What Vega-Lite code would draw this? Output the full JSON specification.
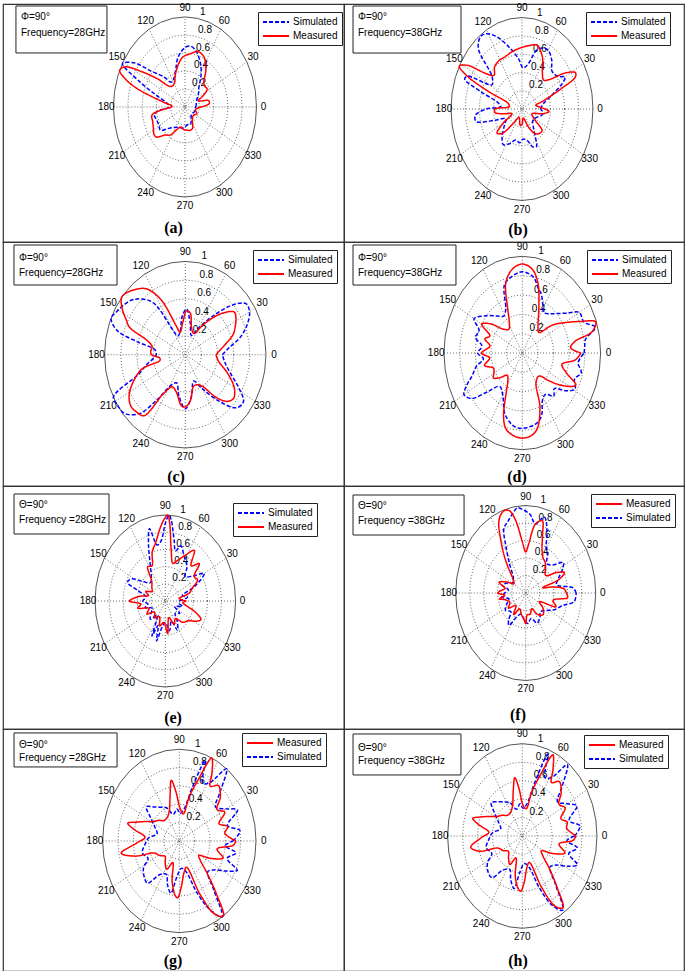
{
"$schema": "https://vega.github.io/schema/vega-lite/v6.json",
"padding": {"left": 2, "top": 2, "right": 2, "bottom": 2},
"background": "white",
"config": {
  "font": "Liberation Sans",
  "view": {"stroke": "#333", "strokeWidth": 1.2},
  "legend": {"title": null, "strokeColor": "#222", "fillColor": "white", "padding": 4, "labelFontSize": 10, "labelColor": "black", "symbolType": "M-1,0H4.2", "symbolSize": 100, "symbolStrokeWidth": 1.8, "rowPadding": 3, "labelOffset": 19, "orient": "none"}
},
"datasets": {
  "grid": [{"ga": [0,10,20,30,40,50,60,70,80,90,100,110,120,130,140,150,160,170,180,190,200,210,220,230,240,250,260,270,280,290,300,310,320,330,340,350,360], "gr": [0.2,0.4,0.6,0.8,1]}],
  "spokes": [{"sa":0,"rs":[-1,1]},{"sa":30,"rs":[-1,1]},{"sa":60,"rs":[-1,1]},{"sa":90,"rs":[-1,1]},{"sa":120,"rs":[-1,1]},{"sa":150,"rs":[-1,1]}],
  "alabels": [{"la":0,"t":"0"},{"la":30,"t":"30"},{"la":60,"t":"60"},{"la":90,"t":"90"},{"la":120,"t":"120"},{"la":150,"t":"150"},{"la":180,"t":"180"},{"la":210,"t":"210"},{"la":240,"t":"240"},{"la":270,"t":"270"},{"la":300,"t":"300"},{"la":330,"t":"330"}],
  "rlabels": [{"rr":0.2,"t":"0.2"},{"rr":0.4,"t":"0.4"},{"rr":0.6,"t":"0.6"},{"rr":0.8,"t":"0.8"},{"rr":1,"t":"1"}],
  "notes": [
    {"p":"a","t1":"Φ=90°","t2":"Frequency=28GHz","cap":"(a)"},
    {"p":"b","t1":"Φ=90°","t2":"Frequency=38GHz","cap":"(b)"},
    {"p":"c","t1":"Φ=90°","t2":"Frequency=28GHz","cap":"(c)"},
    {"p":"d","t1":"Φ=90°","t2":"Frequency=38GHz","cap":"(d)"},
    {"p":"e","t1":"Θ=90°","t2":"Frequency =28GHz","cap":"(e)"},
    {"p":"f","t1":"Θ=90°","t2":"Frequency =38GHz","cap":"(f)"},
    {"p":"g","t1":"Θ=90°","t2":"Frequency =28GHz","cap":"(g)"},
    {"p":"h","t1":"Θ=90°","t2":"Frequency =38GHz","cap":"(h)"}
  ],
  "curves": [
    {"p":"a","s":"Simulated","a":[0,10,20,30,40,48,57,65,75,83,90,100,107,115,122,127,131,140,145,151,156,162,170,180,187,192,200,210,217,225,235,245,255,268,280,292,305,320,336,350,360],"r":[0.15,0.16,0.17,0.2,0.25,0.29,0.41,0.52,0.63,0.68,0.66,0.56,0.44,0.36,0.33,0.35,0.44,0.62,0.85,1.0,0.7,0.42,0.26,0.22,0.39,0.44,0.42,0.42,0.43,0.34,0.28,0.25,0.24,0.23,0.2,0.21,0.15,0.12,0.14,0.14,0.15]},
    {"p":"a","s":"Measured","a":[0,6,12,20,27,33,40,46,55,65,74,82,94,109,120,131,141,147,152,156,160,163,166,170,178,186,191,200,208,215,220,228,237,245,255,265,277,287,294,305,320,336,348,360],"r":[0.22,0.34,0.34,0.2,0.3,0.37,0.36,0.38,0.51,0.62,0.64,0.6,0.55,0.4,0.3,0.3,0.5,0.72,0.95,1.0,0.87,0.7,0.48,0.3,0.18,0.34,0.47,0.48,0.5,0.53,0.52,0.42,0.37,0.28,0.23,0.25,0.26,0.27,0.26,0.18,0.15,0.18,0.15,0.22]},
    {"p":"b","s":"Simulated","a":[0,10,20,26,30,35,44,52,60,66,72,80,88,95,105,115,122,127,133,140,148,155,158,162,168,175,180,186,192,198,205,215,228,236,245,255,265,272,282,290,296,305,320,335,345,352,360],"r":[0.26,0.3,0.45,0.63,0.7,0.62,0.59,0.68,0.74,0.73,0.68,0.5,0.45,0.55,0.7,0.88,0.97,0.98,0.9,0.55,0.5,0.85,0.87,0.6,0.35,0.3,0.5,0.66,0.66,0.4,0.25,0.3,0.42,0.47,0.42,0.35,0.37,0.33,0.35,0.44,0.46,0.3,0.2,0.22,0.28,0.3,0.26]},
    {"p":"b","s":"Measured","a":[0,5,12,16,22,25,28,33,40,46,55,62,67,73,82,95,103,112,122,130,137,143,148,152,155,158,163,172,180,186,192,200,210,217,224,232,245,262,270,280,295,305,312,320,328,340,350,356,360],"r":[0.33,0.25,0.2,0.3,0.6,0.83,0.85,0.72,0.5,0.44,0.5,0.62,0.68,0.73,0.7,0.66,0.64,0.62,0.62,0.6,0.54,0.65,0.9,1.0,0.85,0.5,0.2,0.18,0.38,0.38,0.25,0.15,0.3,0.44,0.38,0.2,0.1,0.18,0.17,0.1,0.22,0.33,0.36,0.37,0.2,0.15,0.3,0.38,0.33]},
    {"p":"c","s":"Simulated","a":[0,8,15,22,30,36,42,50,60,70,80,88,95,105,115,120,126,137,145,152,157,163,167,172,180,186,193,200,207,213,220,228,234,240,250,260,270,280,290,300,310,318,325,332,340,350,360],"r":[0.46,0.55,0.7,0.82,0.92,0.93,0.8,0.55,0.33,0.22,0.35,0.49,0.42,0.25,0.22,0.3,0.7,0.87,0.93,0.97,1.0,0.88,0.6,0.38,0.36,0.4,0.5,0.62,1.0,1.0,0.98,0.85,0.6,0.4,0.32,0.45,0.58,0.45,0.3,0.42,0.65,0.85,0.88,0.75,0.6,0.5,0.46]},
    {"p":"c","s":"Measured","a":[0,8,12,20,25,32,37,45,55,65,75,82,88,95,105,110,117,124,130,137,142,148,153,157,162,168,175,180,186,191,196,205,212,219,226,232,237,245,255,265,270,277,288,300,310,316,322,330,340,350,360],"r":[0.38,0.45,0.5,0.63,0.68,0.74,0.76,0.62,0.4,0.25,0.3,0.45,0.47,0.35,0.25,0.33,0.66,0.85,0.92,0.98,1.0,0.92,0.82,0.75,0.5,0.42,0.43,0.42,0.32,0.32,0.56,0.72,0.82,0.87,0.86,0.83,0.5,0.38,0.42,0.55,0.56,0.5,0.35,0.38,0.6,0.72,0.76,0.7,0.55,0.42,0.38]},
    {"p":"d","s":"Simulated","a":[0,5,10,16,22,30,36,43,50,57,62,68,73,80,90,100,108,115,122,130,140,150,157,165,172,180,187,193,200,205,210,216,222,230,240,250,257,263,269,276,284,291,298,305,312,318,325,331,338,345,352,360],"r":[0.79,0.8,0.82,0.97,0.85,0.84,0.7,0.6,0.53,0.5,0.56,0.65,0.7,0.8,0.84,0.8,0.74,0.5,0.45,0.5,0.6,0.71,0.6,0.62,0.52,0.57,0.5,0.6,0.68,0.78,0.86,0.8,0.6,0.45,0.5,0.66,0.73,0.77,0.78,0.77,0.75,0.69,0.55,0.52,0.6,0.55,0.68,0.77,0.72,0.78,0.72,0.79]},
    {"p":"d","s":"Measured","a":[0,5,10,14,19,24,28,37,45,55,65,75,82,90,98,106,112,118,125,135,143,150,157,163,170,180,187,195,203,210,215,222,230,238,243,250,255,262,270,278,284,292,300,312,320,327,334,340,347,354,360],"r":[0.75,0.62,0.68,0.92,0.99,0.8,0.68,0.48,0.3,0.35,0.5,0.76,0.88,0.92,0.88,0.76,0.5,0.35,0.3,0.35,0.5,0.6,0.45,0.5,0.42,0.52,0.42,0.5,0.4,0.42,0.45,0.38,0.3,0.35,0.45,0.7,0.81,0.86,0.88,0.86,0.8,0.6,0.35,0.32,0.45,0.62,0.76,0.6,0.52,0.68,0.75]},
    {"p":"e","s":"Simulated","a":[0,8,15,22,30,36,45,52,58,64,71,76,80,85,87,90,95,100,105,110,118,125,135,145,152,158,163,170,180,188,195,205,215,225,235,245,250,255,262,270,280,290,297,305,315,325,335,345,352,360],"r":[0.2,0.32,0.25,0.45,0.64,0.5,0.4,0.5,0.55,0.6,0.68,0.6,0.72,0.95,1.0,0.9,0.7,0.66,0.87,0.7,0.45,0.35,0.3,0.4,0.55,0.58,0.4,0.28,0.32,0.25,0.3,0.2,0.25,0.3,0.2,0.45,0.3,0.48,0.3,0.25,0.35,0.25,0.38,0.3,0.2,0.25,0.15,0.25,0.2,0.2]},
    {"p":"e","s":"Measured","a":[0,8,15,22,28,35,42,48,55,62,70,76,82,86,88,91,95,101,108,115,122,130,140,150,158,165,172,180,186,192,200,210,220,232,245,255,265,275,285,295,305,315,325,332,337,343,350,355,360],"r":[0.3,0.2,0.35,0.42,0.52,0.5,0.65,0.55,0.72,0.6,0.5,0.45,0.6,0.9,1.0,0.95,0.85,0.7,0.6,0.45,0.47,0.3,0.25,0.22,0.3,0.25,0.38,0.51,0.35,0.4,0.25,0.3,0.2,0.25,0.2,0.3,0.25,0.38,0.2,0.3,0.25,0.35,0.4,0.5,0.55,0.45,0.3,0.25,0.3]},
    {"p":"f","s":"Simulated","a":[0,5,12,20,28,33,40,48,55,61,66,73,80,86,92,97,102,108,113,118,125,135,148,158,165,172,180,188,195,205,215,225,232,237,245,255,265,275,285,295,305,315,325,335,345,352,360],"r":[0.72,0.68,0.45,0.5,0.6,0.64,0.5,0.45,0.55,0.6,0.75,0.91,0.8,0.9,0.95,0.98,0.92,0.85,0.8,0.6,0.4,0.25,0.22,0.3,0.35,0.25,0.3,0.35,0.25,0.3,0.35,0.3,0.4,0.44,0.3,0.25,0.3,0.35,0.3,0.38,0.35,0.3,0.35,0.45,0.55,0.7,0.72]},
    {"p":"f","s":"Measured","a":[0,5,10,14,18,23,28,35,45,52,58,65,70,74,80,86,90,95,100,104,108,112,116,120,125,130,138,148,155,162,170,175,180,185,190,195,205,215,225,235,245,255,265,270,275,285,295,305,315,325,333,340,348,355,360],"r":[0.58,0.55,0.4,0.25,0.5,0.6,0.5,0.35,0.4,0.45,0.47,0.55,0.7,0.86,0.8,0.55,0.47,0.6,0.85,0.97,0.99,0.96,0.88,0.72,0.55,0.4,0.25,0.2,0.3,0.4,0.3,0.35,0.4,0.3,0.38,0.3,0.25,0.3,0.2,0.3,0.2,0.25,0.3,0.35,0.25,0.25,0.2,0.3,0.35,0.3,0.22,0.46,0.4,0.6,0.58]},
    {"p":"g","s":"Simulated","a":[0,8,15,24,30,38,45,52,58,64,69,74,80,88,95,105,115,125,132,139,146,155,165,175,185,195,205,212,220,228,235,245,252,259,265,275,285,292,298,304,310,318,325,332,337,343,350,355,360],"r":[0.7,0.8,0.65,0.83,0.7,0.6,0.75,1.0,0.75,0.7,0.94,0.6,0.35,0.3,0.35,0.3,0.4,0.45,0.5,0.57,0.45,0.35,0.3,0.4,0.45,0.5,0.45,0.55,0.6,0.62,0.45,0.4,0.5,0.58,0.4,0.3,0.35,0.6,0.85,1.0,0.7,0.5,0.55,0.7,0.82,0.65,0.75,0.6,0.7]},
    {"p":"g","s":"Measured","a":[0,8,14,20,28,35,42,50,56,60,65,70,75,80,88,95,99,104,112,122,132,140,148,155,160,164,168,175,182,190,196,202,212,222,232,242,250,258,265,268,273,280,288,295,300,305,310,316,322,328,335,342,350,356,360],"r":[0.74,0.6,0.65,0.55,0.67,0.6,0.72,0.79,0.72,0.85,1.0,0.7,0.5,0.3,0.35,0.55,0.67,0.5,0.35,0.3,0.3,0.35,0.4,0.5,0.6,0.7,0.6,0.45,0.55,0.77,0.6,0.35,0.3,0.25,0.3,0.35,0.25,0.45,0.6,0.62,0.5,0.35,0.3,0.65,0.92,1.0,0.75,0.5,0.35,0.3,0.45,0.6,0.5,0.7,0.74]},
    {"p":"h","s":"Simulated","a":[0,8,15,24,30,38,45,52,58,64,69,74,80,88,95,105,115,125,132,139,146,155,165,175,185,195,205,212,220,228,235,245,252,259,265,275,285,292,298,304,310,318,325,332,337,343,350,355,360],"r":[0.7,0.78,0.65,0.8,0.7,0.6,0.75,0.98,0.75,0.7,0.95,0.6,0.35,0.3,0.35,0.3,0.4,0.45,0.5,0.55,0.45,0.35,0.3,0.4,0.45,0.5,0.45,0.55,0.6,0.61,0.45,0.4,0.5,0.58,0.4,0.3,0.35,0.6,0.85,0.97,0.7,0.5,0.55,0.7,0.8,0.65,0.75,0.6,0.7]},
    {"p":"h","s":"Measured","a":[0,8,14,20,28,35,42,50,56,60,65,70,75,80,88,95,99,104,112,122,132,140,148,155,160,164,168,175,182,190,196,202,212,222,232,242,250,258,265,268,273,280,288,295,300,305,310,316,322,328,335,342,350,356,360],"r":[0.72,0.6,0.62,0.55,0.65,0.6,0.7,0.77,0.7,0.82,0.97,0.7,0.5,0.3,0.33,0.52,0.64,0.5,0.35,0.3,0.3,0.35,0.4,0.5,0.6,0.69,0.6,0.45,0.55,0.7,0.6,0.35,0.3,0.25,0.3,0.35,0.25,0.45,0.58,0.6,0.5,0.35,0.3,0.62,0.88,0.95,0.72,0.5,0.35,0.3,0.45,0.6,0.5,0.68,0.72]}
  ]
},
"columns": 2,
"spacing": 0,
"bounds": "flush",
"align": "each",
"resolve": {"scale": {"color": "independent", "strokeDash": "independent", "x": "independent", "y": "independent"}, "legend": {"color": "independent", "strokeDash": "independent"}},
"concat": [
{"width": 341, "height": 238,
 "encoding": {"x": {"field": "x", "type": "quantitative", "scale": {"domain": [-2.545, 2.224], "nice": false, "zero": false}, "axis": null}, "y": {"field": "y", "type": "quantitative", "scale": {"domain": [-1.5, 1.144], "nice": false, "zero": false}, "axis": null}},
 "layer": [
  {"data": {"name": "grid"}, "transform": [{"flatten": ["gr"]}, {"flatten": ["ga"]}, {"filter": "datum.gr < 0.9"}, {"calculate": "datum.gr*cos(datum.ga*PI/180)", "as": "x"}, {"calculate": "datum.gr*sin(datum.ga*PI/180)", "as": "y"}], "mark": {"type": "line", "stroke": "#444", "strokeWidth": 0.8, "strokeDash": [1, 2]}, "encoding": {"detail": {"field": "gr"}, "order": {"field": "ga", "type": "quantitative"}}},
  {"data": {"name": "grid"}, "transform": [{"flatten": ["gr"]}, {"flatten": ["ga"]}, {"filter": "datum.gr > 0.9"}, {"calculate": "datum.gr*cos(datum.ga*PI/180)", "as": "x"}, {"calculate": "datum.gr*sin(datum.ga*PI/180)", "as": "y"}], "mark": {"type": "line", "stroke": "#555", "strokeWidth": 1}, "encoding": {"detail": {"field": "gr"}, "order": {"field": "ga", "type": "quantitative"}}},
  {"data": {"name": "spokes"}, "transform": [{"flatten": ["rs"]}, {"calculate": "datum.rs*cos(datum.sa*PI/180)", "as": "x"}, {"calculate": "datum.rs*sin(datum.sa*PI/180)", "as": "y"}], "mark": {"type": "line", "stroke": "#444", "strokeWidth": 0.8, "strokeDash": [1, 2]}, "encoding": {"detail": {"field": "sa"}, "order": {"field": "rs", "type": "quantitative"}}},
  {"data": {"name": "alabels"}, "transform": [{"calculate": "1.1*cos(datum.la*PI/180)", "as": "x"}, {"calculate": "1.1*sin(datum.la*PI/180)", "as": "y"}], "mark": {"type": "text", "fontSize": 10, "color": "black"}, "encoding": {"text": {"field": "t", "type": "nominal"}}},
  {"data": {"name": "rlabels"}, "transform": [{"calculate": "(datum.rr+0.01)*cos(82*PI/180)", "as": "x"}, {"calculate": "(datum.rr+0.01)*sin(82*PI/180)", "as": "y"}], "mark": {"type": "text", "fontSize": 10, "color": "black", "align": "left", "baseline": "bottom", "dx": 5}, "encoding": {"text": {"field": "t", "type": "nominal"}}},
  {"data": {"name": "curves"}, "transform": [{"filter": "datum.p == 'a'"}, {"flatten": ["a", "r"]}, {"calculate": "datum.r*cos(datum.a*PI/180)", "as": "x"}, {"calculate": "datum.r*sin(datum.a*PI/180)", "as": "y"}], "mark": {"type": "line", "strokeWidth": 1.5, "interpolate": "catmull-rom"},
   "encoding": {"color": {"field": "s", "type": "nominal", "scale": {"domain": ["Simulated", "Measured"], "range": ["#0000ff", "#ff0000"]}, "legend": {"orient": "none", "legendX": 255, "legendY": 8}}, "strokeDash": {"field": "s", "type": "nominal", "scale": {"domain": ["Simulated", "Measured"], "range": [[4, 2], [1, 0]]}, "legend": {"orient": "none", "legendX": 255, "legendY": 8}}, "order": {"field": "a", "type": "quantitative"}}},
  {"data": {"name": "notes"}, "transform": [{"filter": "datum.p == 'a'"}, {"calculate": "-2.364", "as": "x"}, {"calculate": "-1.091", "as": "x2"}, {"calculate": "1.122", "as": "y"}, {"calculate": "0.6", "as": "y2"}], "mark": {"type": "rect", "fill": "white", "stroke": "#222", "strokeWidth": 1}, "encoding": {"x2": {"field": "x2"}, "y2": {"field": "y2"}}},
  {"data": {"name": "notes"}, "transform": [{"filter": "datum.p == 'a'"}, {"calculate": "-2.294", "as": "x"}, {"calculate": "1.0", "as": "y"}], "mark": {"type": "text", "align": "left", "baseline": "middle", "fontSize": 10, "color": "black"}, "encoding": {"text": {"field": "t1", "type": "nominal"}}},
  {"data": {"name": "notes"}, "transform": [{"filter": "datum.p == 'a'"}, {"calculate": "-2.294", "as": "x"}, {"calculate": "0.822", "as": "y"}], "mark": {"type": "text", "align": "left", "baseline": "middle", "fontSize": 10, "color": "black"}, "encoding": {"text": {"field": "t2", "type": "nominal"}}},
  {"data": {"name": "notes"}, "transform": [{"filter": "datum.p == 'a'"}, {"calculate": "-0.161", "as": "x"}, {"calculate": "-1.344", "as": "y"}], "mark": {"type": "text", "font": "Liberation Serif", "fontWeight": "bold", "fontSize": 16, "baseline": "middle", "color": "black"}, "encoding": {"text": {"field": "cap", "type": "nominal"}}}
 ]},
{"width": 340, "height": 238,
 "encoding": {"x": {"field": "x", "type": "quantitative", "scale": {"domain": [-2.507, 2.282], "nice": false, "zero": false}, "axis": null}, "y": {"field": "y", "type": "quantitative", "scale": {"domain": [-1.454, 1.148], "nice": false, "zero": false}, "axis": null}},
 "layer": [
  {"data": {"name": "grid"}, "transform": [{"flatten": ["gr"]}, {"flatten": ["ga"]}, {"filter": "datum.gr < 0.9"}, {"calculate": "datum.gr*cos(datum.ga*PI/180)", "as": "x"}, {"calculate": "datum.gr*sin(datum.ga*PI/180)", "as": "y"}], "mark": {"type": "line", "stroke": "#444", "strokeWidth": 0.8, "strokeDash": [1, 2]}, "encoding": {"detail": {"field": "gr"}, "order": {"field": "ga", "type": "quantitative"}}},
  {"data": {"name": "grid"}, "transform": [{"flatten": ["gr"]}, {"flatten": ["ga"]}, {"filter": "datum.gr > 0.9"}, {"calculate": "datum.gr*cos(datum.ga*PI/180)", "as": "x"}, {"calculate": "datum.gr*sin(datum.ga*PI/180)", "as": "y"}], "mark": {"type": "line", "stroke": "#555", "strokeWidth": 1}, "encoding": {"detail": {"field": "gr"}, "order": {"field": "ga", "type": "quantitative"}}},
  {"data": {"name": "spokes"}, "transform": [{"flatten": ["rs"]}, {"calculate": "datum.rs*cos(datum.sa*PI/180)", "as": "x"}, {"calculate": "datum.rs*sin(datum.sa*PI/180)", "as": "y"}], "mark": {"type": "line", "stroke": "#444", "strokeWidth": 0.8, "strokeDash": [1, 2]}, "encoding": {"detail": {"field": "sa"}, "order": {"field": "rs", "type": "quantitative"}}},
  {"data": {"name": "alabels"}, "transform": [{"calculate": "1.1*cos(datum.la*PI/180)", "as": "x"}, {"calculate": "1.1*sin(datum.la*PI/180)", "as": "y"}], "mark": {"type": "text", "fontSize": 10, "color": "black"}, "encoding": {"text": {"field": "t", "type": "nominal"}}},
  {"data": {"name": "rlabels"}, "transform": [{"calculate": "(datum.rr+0.01)*cos(82*PI/180)", "as": "x"}, {"calculate": "(datum.rr+0.01)*sin(82*PI/180)", "as": "y"}], "mark": {"type": "text", "fontSize": 10, "color": "black", "align": "left", "baseline": "bottom", "dx": 5}, "encoding": {"text": {"field": "t", "type": "nominal"}}},
  {"data": {"name": "curves"}, "transform": [{"filter": "datum.p == 'b'"}, {"flatten": ["a", "r"]}, {"calculate": "datum.r*cos(datum.a*PI/180)", "as": "x"}, {"calculate": "datum.r*sin(datum.a*PI/180)", "as": "y"}], "mark": {"type": "line", "strokeWidth": 1.5, "interpolate": "catmull-rom"},
   "encoding": {"color": {"field": "s", "type": "nominal", "scale": {"domain": ["Simulated", "Measured"], "range": ["#0000ff", "#ff0000"]}, "legend": {"orient": "none", "legendX": 242, "legendY": 8}}, "strokeDash": {"field": "s", "type": "nominal", "scale": {"domain": ["Simulated", "Measured"], "range": [[4, 2], [1, 0]]}, "legend": {"orient": "none", "legendX": 242, "legendY": 8}}, "order": {"field": "a", "type": "quantitative"}}},
  {"data": {"name": "notes"}, "transform": [{"filter": "datum.p == 'b'"}, {"calculate": "-2.38", "as": "x"}, {"calculate": "-0.859", "as": "x2"}, {"calculate": "1.126", "as": "y"}, {"calculate": "0.612", "as": "y2"}], "mark": {"type": "rect", "fill": "white", "stroke": "#222", "strokeWidth": 1}, "encoding": {"x2": {"field": "x2"}, "y2": {"field": "y2"}}},
  {"data": {"name": "notes"}, "transform": [{"filter": "datum.p == 'b'"}, {"calculate": "-2.31", "as": "x"}, {"calculate": "1.005", "as": "y"}], "mark": {"type": "text", "align": "left", "baseline": "middle", "fontSize": 10, "color": "black"}, "encoding": {"text": {"field": "t1", "type": "nominal"}}},
  {"data": {"name": "notes"}, "transform": [{"filter": "datum.p == 'b'"}, {"calculate": "-2.31", "as": "x"}, {"calculate": "0.831", "as": "y"}], "mark": {"type": "text", "align": "left", "baseline": "middle", "fontSize": 10, "color": "black"}, "encoding": {"text": {"field": "t2", "type": "nominal"}}},
  {"data": {"name": "notes"}, "transform": [{"filter": "datum.p == 'b'"}, {"calculate": "-0.056", "as": "x"}, {"calculate": "-1.327", "as": "y"}], "mark": {"type": "text", "font": "Liberation Serif", "fontWeight": "bold", "fontSize": 16, "baseline": "middle", "color": "black"}, "encoding": {"text": {"field": "cap", "type": "nominal"}}}
 ]},
{"width": 341, "height": 244,
 "encoding": {"x": {"field": "x", "type": "quantitative", "scale": {"domain": [-2.259, 1.967], "nice": false, "zero": false}, "axis": null}, "y": {"field": "y", "type": "quantitative", "scale": {"domain": [-1.407, 1.208], "nice": false, "zero": false}, "axis": null}},
 "layer": [
  {"data": {"name": "grid"}, "transform": [{"flatten": ["gr"]}, {"flatten": ["ga"]}, {"filter": "datum.gr < 0.9"}, {"calculate": "datum.gr*cos(datum.ga*PI/180)", "as": "x"}, {"calculate": "datum.gr*sin(datum.ga*PI/180)", "as": "y"}], "mark": {"type": "line", "stroke": "#444", "strokeWidth": 0.8, "strokeDash": [1, 2]}, "encoding": {"detail": {"field": "gr"}, "order": {"field": "ga", "type": "quantitative"}}},
  {"data": {"name": "grid"}, "transform": [{"flatten": ["gr"]}, {"flatten": ["ga"]}, {"filter": "datum.gr > 0.9"}, {"calculate": "datum.gr*cos(datum.ga*PI/180)", "as": "x"}, {"calculate": "datum.gr*sin(datum.ga*PI/180)", "as": "y"}], "mark": {"type": "line", "stroke": "#555", "strokeWidth": 1}, "encoding": {"detail": {"field": "gr"}, "order": {"field": "ga", "type": "quantitative"}}},
  {"data": {"name": "spokes"}, "transform": [{"flatten": ["rs"]}, {"calculate": "datum.rs*cos(datum.sa*PI/180)", "as": "x"}, {"calculate": "datum.rs*sin(datum.sa*PI/180)", "as": "y"}], "mark": {"type": "line", "stroke": "#444", "strokeWidth": 0.8, "strokeDash": [1, 2]}, "encoding": {"detail": {"field": "sa"}, "order": {"field": "rs", "type": "quantitative"}}},
  {"data": {"name": "alabels"}, "transform": [{"calculate": "1.1*cos(datum.la*PI/180)", "as": "x"}, {"calculate": "1.1*sin(datum.la*PI/180)", "as": "y"}], "mark": {"type": "text", "fontSize": 10, "color": "black"}, "encoding": {"text": {"field": "t", "type": "nominal"}}},
  {"data": {"name": "rlabels"}, "transform": [{"calculate": "(datum.rr+0.01)*cos(82*PI/180)", "as": "x"}, {"calculate": "(datum.rr+0.01)*sin(82*PI/180)", "as": "y"}], "mark": {"type": "text", "fontSize": 10, "color": "black", "align": "left", "baseline": "bottom", "dx": 5}, "encoding": {"text": {"field": "t", "type": "nominal"}}},
  {"data": {"name": "curves"}, "transform": [{"filter": "datum.p == 'c'"}, {"flatten": ["a", "r"]}, {"calculate": "datum.r*cos(datum.a*PI/180)", "as": "x"}, {"calculate": "datum.r*sin(datum.a*PI/180)", "as": "y"}], "mark": {"type": "line", "strokeWidth": 1.5, "interpolate": "catmull-rom"},
   "encoding": {"color": {"field": "s", "type": "nominal", "scale": {"domain": ["Simulated", "Measured"], "range": ["#0000ff", "#ff0000"]}, "legend": {"orient": "none", "legendX": 250, "legendY": 8}}, "strokeDash": {"field": "s", "type": "nominal", "scale": {"domain": ["Simulated", "Measured"], "range": [[4, 2], [1, 0]]}, "legend": {"orient": "none", "legendX": 250, "legendY": 8}}, "order": {"field": "a", "type": "quantitative"}}},
  {"data": {"name": "notes"}, "transform": [{"filter": "datum.p == 'c'"}, {"calculate": "-2.123", "as": "x"}, {"calculate": "-0.846", "as": "x2"}, {"calculate": "1.176", "as": "y"}, {"calculate": "0.747", "as": "y2"}], "mark": {"type": "rect", "fill": "white", "stroke": "#222", "strokeWidth": 1}, "encoding": {"x2": {"field": "x2"}, "y2": {"field": "y2"}}},
  {"data": {"name": "notes"}, "transform": [{"filter": "datum.p == 'c'"}, {"calculate": "-2.061", "as": "x"}, {"calculate": "1.036", "as": "y"}], "mark": {"type": "text", "align": "left", "baseline": "middle", "fontSize": 10, "color": "black"}, "encoding": {"text": {"field": "t1", "type": "nominal"}}},
  {"data": {"name": "notes"}, "transform": [{"filter": "datum.p == 'c'"}, {"calculate": "-2.061", "as": "x"}, {"calculate": "0.876", "as": "y"}], "mark": {"type": "text", "align": "left", "baseline": "middle", "fontSize": 10, "color": "black"}, "encoding": {"text": {"field": "t2", "type": "nominal"}}},
  {"data": {"name": "notes"}, "transform": [{"filter": "datum.p == 'c'"}, {"calculate": "-0.115", "as": "x"}, {"calculate": "-1.311", "as": "y"}], "mark": {"type": "text", "font": "Liberation Serif", "fontWeight": "bold", "fontSize": 16, "baseline": "middle", "color": "black"}, "encoding": {"text": {"field": "cap", "type": "nominal"}}}
 ]},
{"width": 340, "height": 244,
 "encoding": {"x": {"field": "x", "type": "quantitative", "scale": {"domain": [-2.277, 2.065], "nice": false, "zero": false}, "axis": null}, "y": {"field": "y", "type": "quantitative", "scale": {"domain": [-1.375, 1.148], "nice": false, "zero": false}, "axis": null}},
 "layer": [
  {"data": {"name": "grid"}, "transform": [{"flatten": ["gr"]}, {"flatten": ["ga"]}, {"filter": "datum.gr < 0.9"}, {"calculate": "datum.gr*cos(datum.ga*PI/180)", "as": "x"}, {"calculate": "datum.gr*sin(datum.ga*PI/180)", "as": "y"}], "mark": {"type": "line", "stroke": "#444", "strokeWidth": 0.8, "strokeDash": [1, 2]}, "encoding": {"detail": {"field": "gr"}, "order": {"field": "ga", "type": "quantitative"}}},
  {"data": {"name": "grid"}, "transform": [{"flatten": ["gr"]}, {"flatten": ["ga"]}, {"filter": "datum.gr > 0.9"}, {"calculate": "datum.gr*cos(datum.ga*PI/180)", "as": "x"}, {"calculate": "datum.gr*sin(datum.ga*PI/180)", "as": "y"}], "mark": {"type": "line", "stroke": "#555", "strokeWidth": 1}, "encoding": {"detail": {"field": "gr"}, "order": {"field": "ga", "type": "quantitative"}}},
  {"data": {"name": "spokes"}, "transform": [{"flatten": ["rs"]}, {"calculate": "datum.rs*cos(datum.sa*PI/180)", "as": "x"}, {"calculate": "datum.rs*sin(datum.sa*PI/180)", "as": "y"}], "mark": {"type": "line", "stroke": "#444", "strokeWidth": 0.8, "strokeDash": [1, 2]}, "encoding": {"detail": {"field": "sa"}, "order": {"field": "rs", "type": "quantitative"}}},
  {"data": {"name": "alabels"}, "transform": [{"calculate": "1.1*cos(datum.la*PI/180)", "as": "x"}, {"calculate": "1.1*sin(datum.la*PI/180)", "as": "y"}], "mark": {"type": "text", "fontSize": 10, "color": "black"}, "encoding": {"text": {"field": "t", "type": "nominal"}}},
  {"data": {"name": "rlabels"}, "transform": [{"calculate": "(datum.rr+0.01)*cos(82*PI/180)", "as": "x"}, {"calculate": "(datum.rr+0.01)*sin(82*PI/180)", "as": "y"}], "mark": {"type": "text", "fontSize": 10, "color": "black", "align": "left", "baseline": "bottom", "dx": 5}, "encoding": {"text": {"field": "t", "type": "nominal"}}},
  {"data": {"name": "curves"}, "transform": [{"filter": "datum.p == 'd'"}, {"flatten": ["a", "r"]}, {"calculate": "datum.r*cos(datum.a*PI/180)", "as": "x"}, {"calculate": "datum.r*sin(datum.a*PI/180)", "as": "y"}], "mark": {"type": "line", "strokeWidth": 1.5, "interpolate": "catmull-rom"},
   "encoding": {"color": {"field": "s", "type": "nominal", "scale": {"domain": ["Simulated", "Measured"], "range": ["#0000ff", "#ff0000"]}, "legend": {"orient": "none", "legendX": 243, "legendY": 8}}, "strokeDash": {"field": "s", "type": "nominal", "scale": {"domain": ["Simulated", "Measured"], "range": [[4, 2], [1, 0]]}, "legend": {"orient": "none", "legendX": 243, "legendY": 8}}, "order": {"field": "a", "type": "quantitative"}}},
  {"data": {"name": "notes"}, "transform": [{"filter": "datum.p == 'd'"}, {"calculate": "-2.162", "as": "x"}, {"calculate": "-0.847", "as": "x2"}, {"calculate": "1.117", "as": "y"}, {"calculate": "0.703", "as": "y2"}], "mark": {"type": "rect", "fill": "white", "stroke": "#222", "strokeWidth": 1}, "encoding": {"x2": {"field": "x2"}, "y2": {"field": "y2"}}},
  {"data": {"name": "notes"}, "transform": [{"filter": "datum.p == 'd'"}, {"calculate": "-2.098", "as": "x"}, {"calculate": "0.982", "as": "y"}], "mark": {"type": "text", "align": "left", "baseline": "middle", "fontSize": 10, "color": "black"}, "encoding": {"text": {"field": "t1", "type": "nominal"}}},
  {"data": {"name": "notes"}, "transform": [{"filter": "datum.p == 'd'"}, {"calculate": "-2.098", "as": "x"}, {"calculate": "0.827", "as": "y"}], "mark": {"type": "text", "align": "left", "baseline": "middle", "fontSize": 10, "color": "black"}, "encoding": {"text": {"field": "t2", "type": "nominal"}}},
  {"data": {"name": "notes"}, "transform": [{"filter": "datum.p == 'd'"}, {"calculate": "-0.068", "as": "x"}, {"calculate": "-1.282", "as": "y"}], "mark": {"type": "text", "font": "Liberation Serif", "fontWeight": "bold", "fontSize": 16, "baseline": "middle", "color": "black"}, "encoding": {"text": {"field": "cap", "type": "nominal"}}}
 ]},
{"width": 341, "height": 243,
 "encoding": {"x": {"field": "x", "type": "quantitative", "scale": {"domain": [-2.309, 2.542], "nice": false, "zero": false}, "axis": null}, "y": {"field": "y", "type": "quantitative", "scale": {"domain": [-1.488, 1.337], "nice": false, "zero": false}, "axis": null}},
 "layer": [
  {"data": {"name": "grid"}, "transform": [{"flatten": ["gr"]}, {"flatten": ["ga"]}, {"filter": "datum.gr < 0.9"}, {"calculate": "datum.gr*cos(datum.ga*PI/180)", "as": "x"}, {"calculate": "datum.gr*sin(datum.ga*PI/180)", "as": "y"}], "mark": {"type": "line", "stroke": "#444", "strokeWidth": 0.8, "strokeDash": [1, 2]}, "encoding": {"detail": {"field": "gr"}, "order": {"field": "ga", "type": "quantitative"}}},
  {"data": {"name": "grid"}, "transform": [{"flatten": ["gr"]}, {"flatten": ["ga"]}, {"filter": "datum.gr > 0.9"}, {"calculate": "datum.gr*cos(datum.ga*PI/180)", "as": "x"}, {"calculate": "datum.gr*sin(datum.ga*PI/180)", "as": "y"}], "mark": {"type": "line", "stroke": "#555", "strokeWidth": 1}, "encoding": {"detail": {"field": "gr"}, "order": {"field": "ga", "type": "quantitative"}}},
  {"data": {"name": "spokes"}, "transform": [{"flatten": ["rs"]}, {"calculate": "datum.rs*cos(datum.sa*PI/180)", "as": "x"}, {"calculate": "datum.rs*sin(datum.sa*PI/180)", "as": "y"}], "mark": {"type": "line", "stroke": "#444", "strokeWidth": 0.8, "strokeDash": [1, 2]}, "encoding": {"detail": {"field": "sa"}, "order": {"field": "rs", "type": "quantitative"}}},
  {"data": {"name": "alabels"}, "transform": [{"calculate": "1.1*cos(datum.la*PI/180)", "as": "x"}, {"calculate": "1.1*sin(datum.la*PI/180)", "as": "y"}], "mark": {"type": "text", "fontSize": 10, "color": "black"}, "encoding": {"text": {"field": "t", "type": "nominal"}}},
  {"data": {"name": "rlabels"}, "transform": [{"calculate": "(datum.rr+0.01)*cos(82*PI/180)", "as": "x"}, {"calculate": "(datum.rr+0.01)*sin(82*PI/180)", "as": "y"}], "mark": {"type": "text", "fontSize": 10, "color": "black", "align": "left", "baseline": "bottom", "dx": 5}, "encoding": {"text": {"field": "t", "type": "nominal"}}},
  {"data": {"name": "curves"}, "transform": [{"filter": "datum.p == 'e'"}, {"flatten": ["a", "r"]}, {"calculate": "datum.r*cos(datum.a*PI/180)", "as": "x"}, {"calculate": "datum.r*sin(datum.a*PI/180)", "as": "y"}], "mark": {"type": "line", "strokeWidth": 1.5, "interpolate": "catmull-rom"},
   "encoding": {"color": {"field": "s", "type": "nominal", "scale": {"domain": ["Simulated", "Measured"], "range": ["#0000ff", "#ff0000"]}, "legend": {"orient": "none", "legendX": 230, "legendY": 17}}, "strokeDash": {"field": "s", "type": "nominal", "scale": {"domain": ["Simulated", "Measured"], "range": [[4, 2], [1, 0]]}, "legend": {"orient": "none", "legendX": 230, "legendY": 17}}, "order": {"field": "a", "type": "quantitative"}}},
  {"data": {"name": "notes"}, "transform": [{"filter": "datum.p == 'e'"}, {"calculate": "-2.152", "as": "x"}, {"calculate": "-0.801", "as": "x2"}, {"calculate": "1.244", "as": "y"}, {"calculate": "0.779", "as": "y2"}], "mark": {"type": "rect", "fill": "white", "stroke": "#222", "strokeWidth": 1}, "encoding": {"x2": {"field": "x2"}, "y2": {"field": "y2"}}},
  {"data": {"name": "notes"}, "transform": [{"filter": "datum.p == 'e'"}, {"calculate": "-2.081", "as": "x"}, {"calculate": "1.116", "as": "y"}], "mark": {"type": "text", "align": "left", "baseline": "middle", "fontSize": 10, "color": "black"}, "encoding": {"text": {"field": "t1", "type": "nominal"}}},
  {"data": {"name": "notes"}, "transform": [{"filter": "datum.p == 'e'"}, {"calculate": "-2.081", "as": "x"}, {"calculate": "0.942", "as": "y"}], "mark": {"type": "text", "align": "left", "baseline": "middle", "fontSize": 10, "color": "black"}, "encoding": {"text": {"field": "t2", "type": "nominal"}}},
  {"data": {"name": "notes"}, "transform": [{"filter": "datum.p == 'e'"}, {"calculate": "0.11", "as": "x"}, {"calculate": "-1.36", "as": "y"}], "mark": {"type": "text", "font": "Liberation Serif", "fontWeight": "bold", "fontSize": 16, "baseline": "middle", "color": "black"}, "encoding": {"text": {"field": "cap", "type": "nominal"}}}
 ]},
{"width": 340, "height": 243,
 "encoding": {"x": {"field": "x", "type": "quantitative", "scale": {"domain": [-2.596, 2.261], "nice": false, "zero": false}, "axis": null}, "y": {"field": "y", "type": "quantitative", "scale": {"domain": [-1.554, 1.223], "nice": false, "zero": false}, "axis": null}},
 "layer": [
  {"data": {"name": "grid"}, "transform": [{"flatten": ["gr"]}, {"flatten": ["ga"]}, {"filter": "datum.gr < 0.9"}, {"calculate": "datum.gr*cos(datum.ga*PI/180)", "as": "x"}, {"calculate": "datum.gr*sin(datum.ga*PI/180)", "as": "y"}], "mark": {"type": "line", "stroke": "#444", "strokeWidth": 0.8, "strokeDash": [1, 2]}, "encoding": {"detail": {"field": "gr"}, "order": {"field": "ga", "type": "quantitative"}}},
  {"data": {"name": "grid"}, "transform": [{"flatten": ["gr"]}, {"flatten": ["ga"]}, {"filter": "datum.gr > 0.9"}, {"calculate": "datum.gr*cos(datum.ga*PI/180)", "as": "x"}, {"calculate": "datum.gr*sin(datum.ga*PI/180)", "as": "y"}], "mark": {"type": "line", "stroke": "#555", "strokeWidth": 1}, "encoding": {"detail": {"field": "gr"}, "order": {"field": "ga", "type": "quantitative"}}},
  {"data": {"name": "spokes"}, "transform": [{"flatten": ["rs"]}, {"calculate": "datum.rs*cos(datum.sa*PI/180)", "as": "x"}, {"calculate": "datum.rs*sin(datum.sa*PI/180)", "as": "y"}], "mark": {"type": "line", "stroke": "#444", "strokeWidth": 0.8, "strokeDash": [1, 2]}, "encoding": {"detail": {"field": "sa"}, "order": {"field": "rs", "type": "quantitative"}}},
  {"data": {"name": "alabels"}, "transform": [{"calculate": "1.1*cos(datum.la*PI/180)", "as": "x"}, {"calculate": "1.1*sin(datum.la*PI/180)", "as": "y"}], "mark": {"type": "text", "fontSize": 10, "color": "black"}, "encoding": {"text": {"field": "t", "type": "nominal"}}},
  {"data": {"name": "rlabels"}, "transform": [{"calculate": "(datum.rr+0.01)*cos(82*PI/180)", "as": "x"}, {"calculate": "(datum.rr+0.01)*sin(82*PI/180)", "as": "y"}], "mark": {"type": "text", "fontSize": 10, "color": "black", "align": "left", "baseline": "bottom", "dx": 5}, "encoding": {"text": {"field": "t", "type": "nominal"}}},
  {"data": {"name": "curves"}, "transform": [{"filter": "datum.p == 'f'"}, {"flatten": ["a", "r"]}, {"calculate": "datum.r*cos(datum.a*PI/180)", "as": "x"}, {"calculate": "datum.r*sin(datum.a*PI/180)", "as": "y"}], "mark": {"type": "line", "strokeWidth": 1.5, "interpolate": "catmull-rom"},
   "encoding": {"color": {"field": "s", "type": "nominal", "scale": {"domain": ["Measured", "Simulated"], "range": ["#ff0000", "#0000ff"]}, "legend": {"orient": "none", "legendX": 247, "legendY": 8}}, "strokeDash": {"field": "s", "type": "nominal", "scale": {"domain": ["Measured", "Simulated"], "range": [[1, 0], [4, 2]]}, "legend": {"orient": "none", "legendX": 247, "legendY": 8}}, "order": {"field": "a", "type": "quantitative"}}},
  {"data": {"name": "notes"}, "transform": [{"filter": "datum.p == 'f'"}, {"calculate": "-2.467", "as": "x"}, {"calculate": "-0.881", "as": "x2"}, {"calculate": "1.12", "as": "y"}, {"calculate": "0.663", "as": "y2"}], "mark": {"type": "rect", "fill": "white", "stroke": "#222", "strokeWidth": 1}, "encoding": {"x2": {"field": "x2"}, "y2": {"field": "y2"}}},
  {"data": {"name": "notes"}, "transform": [{"filter": "datum.p == 'f'"}, {"calculate": "-2.396", "as": "x"}, {"calculate": "0.994", "as": "y"}], "mark": {"type": "text", "align": "left", "baseline": "middle", "fontSize": 10, "color": "black"}, "encoding": {"text": {"field": "t1", "type": "nominal"}}},
  {"data": {"name": "notes"}, "transform": [{"filter": "datum.p == 'f'"}, {"calculate": "-2.396", "as": "x"}, {"calculate": "0.823", "as": "y"}], "mark": {"type": "text", "align": "left", "baseline": "middle", "fontSize": 10, "color": "black"}, "encoding": {"text": {"field": "t2", "type": "nominal"}}},
  {"data": {"name": "notes"}, "transform": [{"filter": "datum.p == 'f'"}, {"calculate": "-0.11", "as": "x"}, {"calculate": "-1.394", "as": "y"}], "mark": {"type": "text", "font": "Liberation Serif", "fontWeight": "bold", "fontSize": 16, "baseline": "middle", "color": "black"}, "encoding": {"text": {"field": "cap", "type": "nominal"}}}
 ]},
{"width": 341, "height": 242,
 "encoding": {"x": {"field": "x", "type": "quantitative", "scale": {"domain": [-2.299, 2.147], "nice": false, "zero": false}, "axis": null}, "y": {"field": "y", "type": "quantitative", "scale": {"domain": [-1.418, 1.221], "nice": false, "zero": false}, "axis": null}},
 "layer": [
  {"data": {"name": "grid"}, "transform": [{"flatten": ["gr"]}, {"flatten": ["ga"]}, {"filter": "datum.gr < 0.9"}, {"calculate": "datum.gr*cos(datum.ga*PI/180)", "as": "x"}, {"calculate": "datum.gr*sin(datum.ga*PI/180)", "as": "y"}], "mark": {"type": "line", "stroke": "#444", "strokeWidth": 0.8, "strokeDash": [1, 2]}, "encoding": {"detail": {"field": "gr"}, "order": {"field": "ga", "type": "quantitative"}}},
  {"data": {"name": "grid"}, "transform": [{"flatten": ["gr"]}, {"flatten": ["ga"]}, {"filter": "datum.gr > 0.9"}, {"calculate": "datum.gr*cos(datum.ga*PI/180)", "as": "x"}, {"calculate": "datum.gr*sin(datum.ga*PI/180)", "as": "y"}], "mark": {"type": "line", "stroke": "#555", "strokeWidth": 1}, "encoding": {"detail": {"field": "gr"}, "order": {"field": "ga", "type": "quantitative"}}},
  {"data": {"name": "spokes"}, "transform": [{"flatten": ["rs"]}, {"calculate": "datum.rs*cos(datum.sa*PI/180)", "as": "x"}, {"calculate": "datum.rs*sin(datum.sa*PI/180)", "as": "y"}], "mark": {"type": "line", "stroke": "#444", "strokeWidth": 0.8, "strokeDash": [1, 2]}, "encoding": {"detail": {"field": "sa"}, "order": {"field": "rs", "type": "quantitative"}}},
  {"data": {"name": "alabels"}, "transform": [{"calculate": "1.1*cos(datum.la*PI/180)", "as": "x"}, {"calculate": "1.1*sin(datum.la*PI/180)", "as": "y"}], "mark": {"type": "text", "fontSize": 10, "color": "black"}, "encoding": {"text": {"field": "t", "type": "nominal"}}},
  {"data": {"name": "rlabels"}, "transform": [{"calculate": "(datum.rr+0.01)*cos(82*PI/180)", "as": "x"}, {"calculate": "(datum.rr+0.01)*sin(82*PI/180)", "as": "y"}], "mark": {"type": "text", "fontSize": 10, "color": "black", "align": "left", "baseline": "bottom", "dx": 5}, "encoding": {"text": {"field": "t", "type": "nominal"}}},
  {"data": {"name": "curves"}, "transform": [{"filter": "datum.p == 'g'"}, {"flatten": ["a", "r"]}, {"calculate": "datum.r*cos(datum.a*PI/180)", "as": "x"}, {"calculate": "datum.r*sin(datum.a*PI/180)", "as": "y"}], "mark": {"type": "line", "strokeWidth": 1.5, "interpolate": "catmull-rom"},
   "encoding": {"color": {"field": "s", "type": "nominal", "scale": {"domain": ["Measured", "Simulated"], "range": ["#ff0000", "#0000ff"]}, "legend": {"orient": "none", "legendX": 239, "legendY": 4}}, "strokeDash": {"field": "s", "type": "nominal", "scale": {"domain": ["Measured", "Simulated"], "range": [[1, 0], [4, 2]]}, "legend": {"orient": "none", "legendX": 239, "legendY": 4}}, "order": {"field": "a", "type": "quantitative"}}},
  {"data": {"name": "notes"}, "transform": [{"filter": "datum.p == 'g'"}, {"calculate": "-2.155", "as": "x"}, {"calculate": "-0.812", "as": "x2"}, {"calculate": "1.178", "as": "y"}, {"calculate": "0.807", "as": "y2"}], "mark": {"type": "rect", "fill": "white", "stroke": "#222", "strokeWidth": 1}, "encoding": {"x2": {"field": "x2"}, "y2": {"field": "y2"}}},
  {"data": {"name": "notes"}, "transform": [{"filter": "datum.p == 'g'"}, {"calculate": "-2.09", "as": "x"}, {"calculate": "1.047", "as": "y"}], "mark": {"type": "text", "align": "left", "baseline": "middle", "fontSize": 10, "color": "black"}, "encoding": {"text": {"field": "t1", "type": "nominal"}}},
  {"data": {"name": "notes"}, "transform": [{"filter": "datum.p == 'g'"}, {"calculate": "-2.09", "as": "x"}, {"calculate": "0.905", "as": "y"}], "mark": {"type": "text", "align": "left", "baseline": "middle", "fontSize": 10, "color": "black"}, "encoding": {"text": {"field": "t2", "type": "nominal"}}},
  {"data": {"name": "notes"}, "transform": [{"filter": "datum.p == 'g'"}, {"calculate": "-0.082", "as": "x"}, {"calculate": "-1.309", "as": "y"}], "mark": {"type": "text", "font": "Liberation Serif", "fontWeight": "bold", "fontSize": 16, "baseline": "middle", "color": "black"}, "encoding": {"text": {"field": "cap", "type": "nominal"}}}
 ]},
{"width": 340, "height": 242,
 "encoding": {"x": {"field": "x", "type": "quantitative", "scale": {"domain": [-2.387, 2.165], "nice": false, "zero": false}, "axis": null}, "y": {"field": "y", "type": "quantitative", "scale": {"domain": [-1.463, 1.159], "nice": false, "zero": false}, "axis": null}},
 "layer": [
  {"data": {"name": "grid"}, "transform": [{"flatten": ["gr"]}, {"flatten": ["ga"]}, {"filter": "datum.gr < 0.9"}, {"calculate": "datum.gr*cos(datum.ga*PI/180)", "as": "x"}, {"calculate": "datum.gr*sin(datum.ga*PI/180)", "as": "y"}], "mark": {"type": "line", "stroke": "#444", "strokeWidth": 0.8, "strokeDash": [1, 2]}, "encoding": {"detail": {"field": "gr"}, "order": {"field": "ga", "type": "quantitative"}}},
  {"data": {"name": "grid"}, "transform": [{"flatten": ["gr"]}, {"flatten": ["ga"]}, {"filter": "datum.gr > 0.9"}, {"calculate": "datum.gr*cos(datum.ga*PI/180)", "as": "x"}, {"calculate": "datum.gr*sin(datum.ga*PI/180)", "as": "y"}], "mark": {"type": "line", "stroke": "#555", "strokeWidth": 1}, "encoding": {"detail": {"field": "gr"}, "order": {"field": "ga", "type": "quantitative"}}},
  {"data": {"name": "spokes"}, "transform": [{"flatten": ["rs"]}, {"calculate": "datum.rs*cos(datum.sa*PI/180)", "as": "x"}, {"calculate": "datum.rs*sin(datum.sa*PI/180)", "as": "y"}], "mark": {"type": "line", "stroke": "#444", "strokeWidth": 0.8, "strokeDash": [1, 2]}, "encoding": {"detail": {"field": "sa"}, "order": {"field": "rs", "type": "quantitative"}}},
  {"data": {"name": "alabels"}, "transform": [{"calculate": "1.1*cos(datum.la*PI/180)", "as": "x"}, {"calculate": "1.1*sin(datum.la*PI/180)", "as": "y"}], "mark": {"type": "text", "fontSize": 10, "color": "black"}, "encoding": {"text": {"field": "t", "type": "nominal"}}},
  {"data": {"name": "rlabels"}, "transform": [{"calculate": "(datum.rr+0.01)*cos(82*PI/180)", "as": "x"}, {"calculate": "(datum.rr+0.01)*sin(82*PI/180)", "as": "y"}], "mark": {"type": "text", "fontSize": 10, "color": "black", "align": "left", "baseline": "bottom", "dx": 5}, "encoding": {"text": {"field": "t", "type": "nominal"}}},
  {"data": {"name": "curves"}, "transform": [{"filter": "datum.p == 'h'"}, {"flatten": ["a", "r"]}, {"calculate": "datum.r*cos(datum.a*PI/180)", "as": "x"}, {"calculate": "datum.r*sin(datum.a*PI/180)", "as": "y"}], "mark": {"type": "line", "strokeWidth": 1.5, "interpolate": "catmull-rom"},
   "encoding": {"color": {"field": "s", "type": "nominal", "scale": {"domain": ["Measured", "Simulated"], "range": ["#ff0000", "#0000ff"]}, "legend": {"orient": "none", "legendX": 240, "legendY": 6}}, "strokeDash": {"field": "s", "type": "nominal", "scale": {"domain": ["Measured", "Simulated"], "range": [[1, 0], [4, 2]]}, "legend": {"orient": "none", "legendX": 240, "legendY": 6}}, "order": {"field": "a", "type": "quantitative"}}},
  {"data": {"name": "notes"}, "transform": [{"filter": "datum.p == 'h'"}, {"calculate": "-2.266", "as": "x"}, {"calculate": "-0.821", "as": "x2"}, {"calculate": "1.105", "as": "y"}, {"calculate": "0.661", "as": "y2"}], "mark": {"type": "rect", "fill": "white", "stroke": "#222", "strokeWidth": 1}, "encoding": {"x2": {"field": "x2"}, "y2": {"field": "y2"}}},
  {"data": {"name": "notes"}, "transform": [{"filter": "datum.p == 'h'"}, {"calculate": "-2.2", "as": "x"}, {"calculate": "0.953", "as": "y"}], "mark": {"type": "text", "align": "left", "baseline": "middle", "fontSize": 10, "color": "black"}, "encoding": {"text": {"field": "t1", "type": "nominal"}}},
  {"data": {"name": "notes"}, "transform": [{"filter": "datum.p == 'h'"}, {"calculate": "-2.2", "as": "x"}, {"calculate": "0.813", "as": "y"}], "mark": {"type": "text", "align": "left", "baseline": "middle", "fontSize": 10, "color": "black"}, "encoding": {"text": {"field": "t2", "type": "nominal"}}},
  {"data": {"name": "notes"}, "transform": [{"filter": "datum.p == 'h'"}, {"calculate": "-0.058", "as": "x"}, {"calculate": "-1.354", "as": "y"}], "mark": {"type": "text", "font": "Liberation Serif", "fontWeight": "bold", "fontSize": 16, "baseline": "middle", "color": "black"}, "encoding": {"text": {"field": "cap", "type": "nominal"}}}
 ]}
]
}
